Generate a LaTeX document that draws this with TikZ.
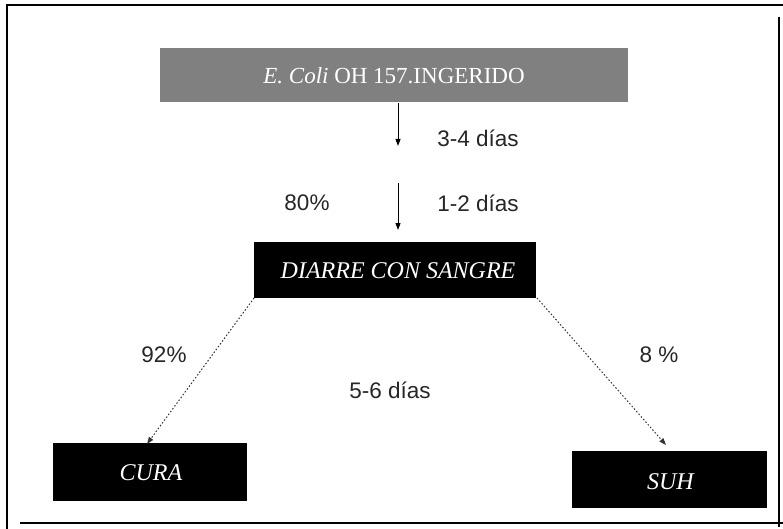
\documentclass[tikz,border=0pt]{standalone}
\usepackage{fontspec}
\setmainfont{Liberation Serif}
\setsansfont{Liberation Sans}
\usetikzlibrary{arrows.meta}
\begin{document}
\begin{tikzpicture}[x=1pt,y=-1pt,
  boxstyle/.style={draw=none,inner sep=0pt,text=white,font=\fontsize{24}{28}\selectfont},
  lbl/.style={font=\sffamily\fontsize{22.5}{26}\selectfont,inner sep=0pt,text=black!85},
  arr/.style={line width=1pt,-{Triangle[length=7pt,width=5pt]}},
  darr/.style={line width=1pt,black!80,dash pattern=on 1.5pt off 2pt,-{Triangle[length=7pt,width=5pt]}}]
\useasboundingbox (0,0) rectangle (783,529);
% frame
\draw[line width=2.5pt] (7,529) -- (7,5) -- (783,5);
\draw[line width=2pt] (779,17) -- (779,527);
\draw[line width=2.5pt] (20,523) -- (783,523);
% boxes
\fill[black!50] (160,48) rectangle (628,102);
\node[boxstyle,font=\fontsize{23}{27}\selectfont] (top) at (394,76) {\textit{E. Coli} OH 157.INGERIDO};
\coordinate (topS) at (398,103);
\fill[black] (254,242) rectangle (536,298);
\node[boxstyle] (diar) at (398,271) {\textit{DIARRE CON SANGRE}};
\fill[black] (53,443) rectangle (247,501);
\node[boxstyle] (cura) at (151,473) {\textit{CURA}};
\fill[black] (572,451) rectangle (767,508);
\node[boxstyle] (suh) at (671,482) {\textit{SUH}};
% coordinates
\coordinate (a1e) at (398,146);
\coordinate (a2s) at (398,183);
\coordinate (a2e) at (398,230);
\coordinate (dl) at (254,298);
\coordinate (dr) at (537,298);
\coordinate (ce) at (147,444);
\coordinate (se) at (666,445);
% arrows
\draw[arr] (topS) -- (a1e);
\draw[arr] (a2s) -- (a2e);
\draw[darr] (dl) -- (ce);
\draw[darr] (dr) -- (se);
% labels
\node[lbl] (l34) at (478,138) {3-4 días};
\node[lbl] (l12) at (478,203) {1-2 días};
\node[lbl] (l80) at (307,203) {80\%};
\node[lbl] (l92) at (164,355) {92\%};
\node[lbl] (l8) at (659,355) {8 \%};
\node[lbl] (l56) at (390,390) {5-6 días};
\end{tikzpicture}
\end{document}
